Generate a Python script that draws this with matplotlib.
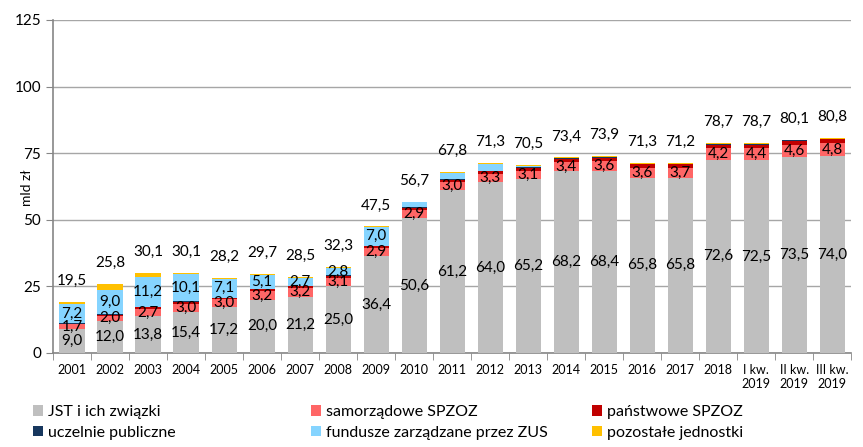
import matplotlib.pyplot as plt
from matplotlib.patches import Patch
import numpy as np

plt.rcParams['font.family'] = ['Lato', 'DejaVu Sans']

years = ['2001', '2002', '2003', '2004', '2005', '2006', '2007', '2008', '2009', '2010',
         '2011', '2012', '2013', '2014', '2015', '2016', '2017', '2018',
         'I kw.\n2019', 'II kw.\n2019', 'III kw.\n2019']
jst = [9.0, 12.0, 13.8, 15.4, 17.2, 20.0, 21.2, 25.0, 36.4, 50.6,
       61.2, 64.0, 65.2, 68.2, 68.4, 65.8, 65.8, 72.6, 72.5, 73.5, 74.0]
samorz = [1.7, 2.0, 2.7, 3.0, 3.0, 3.2, 3.2, 3.1, 2.9, 2.9,
          3.0, 3.3, 3.1, 3.4, 3.6, 3.6, 3.7, 4.2, 4.4, 4.6, 4.8]
panstw = [0.3, 0.4, 0.6, 0.8, 0.4, 0.8, 0.6, 0.8, 0.8, 1.0,
          0.8, 0.9, 1.2, 1.2, 1.3, 1.4, 1.3, 1.3, 1.2, 1.6, 1.6]
uczelnie = [0.1, 0.1, 0.2, 0.2, 0.2, 0.2, 0.3, 0.2, 0.2, 0.2,
            0.2, 0.3, 0.3, 0.3, 0.3, 0.3, 0.2, 0.5, 0.4, 0.2, 0.1]
zus = [7.2, 9.0, 11.2, 10.1, 7.1, 5.1, 2.7, 2.8, 7.0, 1.8,
       2.4, 2.5, 0.4, 0.1, 0.1, 0.0, 0.0, 0.0, 0.0, 0.0, 0.0]
pozostale = [1.0, 2.3, 1.6, 0.6, 0.3, 0.4, 0.5, 0.4, 0.2, 0.2,
             0.2, 0.3, 0.3, 0.2, 0.2, 0.2, 0.2, 0.1, 0.2, 0.2, 0.3]
totals = [19.5, 25.8, 30.1, 30.1, 28.2, 29.7, 28.5, 32.3, 47.5, 56.7,
          67.8, 71.3, 70.5, 73.4, 73.9, 71.3, 71.2, 78.7, 78.7, 80.1, 80.8]

series = [
    ('JST i ich związki', jst, '#BFBFBF'),
    ('samorządowe SPZOZ', samorz, '#FF6666'),
    ('państwowe SPZOZ', panstw, '#C00000'),
    ('uczelnie publiczne', uczelnie, '#17375E'),
    ('fundusze zarządzane przez ZUS', zus, '#85D4FF'),
    ('pozostałe jednostki', pozostale, '#FFC000'),
]

def fmt(v):
    return f'{v:.1f}'.replace('.', ',')

fig = plt.figure(figsize=(8.63, 4.47), dpi=100)
ax = fig.add_axes([0.0614, 0.2103, 0.925, 0.745])

x = np.arange(len(years))
bottom = np.zeros(len(years))
for name, vals, col in series:
    vals = np.array(vals)
    ax.bar(x, vals, 0.66, bottom=bottom, color=col, zorder=3)
    # labels inside segments
    if name in ('JST i ich związki', 'samorządowe SPZOZ'):
        for i, v in enumerate(vals):
            ax.text(x[i], bottom[i] + v / 2, fmt(v), ha='center', va='center',
                    fontsize=11, zorder=4)
    if name == 'fundusze zarządzane przez ZUS':
        for i, v in enumerate(vals[:9]):
            ax.text(x[i], bottom[i] + v / 2, fmt(v), ha='center', va='center',
                    fontsize=11, zorder=4)
    bottom = bottom + vals

for i, t in enumerate(totals):
    ax.annotate(fmt(t), (x[i], bottom[i]), xytext=(0, 14), textcoords='offset pixels',
                ha='center', va='bottom', fontsize=11)

ax.set_xlim(-0.5, len(years) - 0.5)
ax.set_ylim(0, 125)
ax.set_yticks([0, 25, 50, 75, 100, 125])
ax.tick_params(axis='y', labelsize=11, color='#868686', length=5)
ax.grid(axis='y', color='#A6A6A6', linewidth=1, zorder=0)
ax.set_xticks(x)
ax.set_xticklabels(years, fontsize=9)
ax.tick_params(axis='x', length=0, pad=8)
ax.set_xticks(np.arange(-0.5, len(years), 1), minor=True)
ax.tick_params(axis='x', which='minor', length=5, color='#868686')
for s in ('top', 'right'):
    ax.spines[s].set_visible(False)
for s in ('left', 'bottom'):
    ax.spines[s].set_color('#868686')
    ax.spines[s].set_linewidth(1.2)
ax.set_ylabel('mld zł', fontsize=10)
ax.yaxis.set_label_coords(-0.025, 0.495)

cols = [[0, 3], [1, 4], [2, 5]]
xs = [0.038, 0.360, 0.686]
for c, x0 in zip(cols, xs):
    handles = [Patch(facecolor=series[k][2]) for k in c]
    labels = [series[k][0] for k in c]
    fig.legend(handles, labels, loc='upper left', bbox_to_anchor=(x0, 0.094),
               frameon=False, fontsize=11.5, handlelength=0.65, handleheight=0.65,
               handletextpad=0.3, labelspacing=0.42, borderpad=0, borderaxespad=0)

fig.savefig('out.png', dpi=100)
